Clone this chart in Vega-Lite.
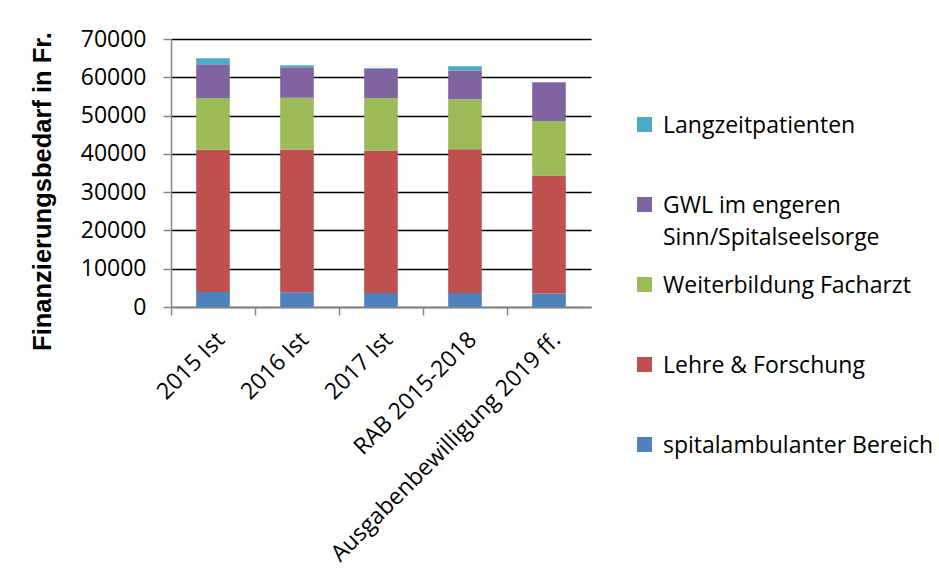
{
  "$schema": "https://vega.github.io/schema/vega-lite/v6.json",
  "width": 420,
  "height": 268,
  "autosize": {"type": "none"},
  "padding": {"left": 171, "top": 39, "right": 348, "bottom": 278},
  "background": "white",
  "data": {
    "values": [
      {"cat": "2015 Ist", "serie": "spitalambulanter Bereich", "k": 1, "wert": 3900},
      {"cat": "2015 Ist", "serie": "Lehre & Forschung", "k": 2, "wert": 37200},
      {"cat": "2015 Ist", "serie": "Weiterbildung Facharzt", "k": 3, "wert": 13500},
      {"cat": "2015 Ist", "serie": "GWL im engeren Sinn/Spitalseelsorge", "k": 4, "wert": 8800},
      {"cat": "2015 Ist", "serie": "Langzeitpatienten", "k": 5, "wert": 1550},
      {"cat": "2016 Ist", "serie": "spitalambulanter Bereich", "k": 1, "wert": 3850},
      {"cat": "2016 Ist", "serie": "Lehre & Forschung", "k": 2, "wert": 37300},
      {"cat": "2016 Ist", "serie": "Weiterbildung Facharzt", "k": 3, "wert": 13500},
      {"cat": "2016 Ist", "serie": "GWL im engeren Sinn/Spitalseelsorge", "k": 4, "wert": 8000},
      {"cat": "2016 Ist", "serie": "Langzeitpatienten", "k": 5, "wert": 500},
      {"cat": "2017 Ist", "serie": "spitalambulanter Bereich", "k": 1, "wert": 3650},
      {"cat": "2017 Ist", "serie": "Lehre & Forschung", "k": 2, "wert": 37200},
      {"cat": "2017 Ist", "serie": "Weiterbildung Facharzt", "k": 3, "wert": 13750},
      {"cat": "2017 Ist", "serie": "GWL im engeren Sinn/Spitalseelsorge", "k": 4, "wert": 7650},
      {"cat": "2017 Ist", "serie": "Langzeitpatienten", "k": 5, "wert": 200},
      {"cat": "RAB 2015-2018", "serie": "spitalambulanter Bereich", "k": 1, "wert": 3650},
      {"cat": "RAB 2015-2018", "serie": "Lehre & Forschung", "k": 2, "wert": 37550},
      {"cat": "RAB 2015-2018", "serie": "Weiterbildung Facharzt", "k": 3, "wert": 13050},
      {"cat": "RAB 2015-2018", "serie": "GWL im engeren Sinn/Spitalseelsorge", "k": 4, "wert": 7550},
      {"cat": "RAB 2015-2018", "serie": "Langzeitpatienten", "k": 5, "wert": 1050},
      {"cat": "Ausgabenbewilligung 2019 ff.", "serie": "spitalambulanter Bereich", "k": 1, "wert": 3550},
      {"cat": "Ausgabenbewilligung 2019 ff.", "serie": "Lehre & Forschung", "k": 2, "wert": 30800},
      {"cat": "Ausgabenbewilligung 2019 ff.", "serie": "Weiterbildung Facharzt", "k": 3, "wert": 14250},
      {"cat": "Ausgabenbewilligung 2019 ff.", "serie": "GWL im engeren Sinn/Spitalseelsorge", "k": 4, "wert": 10100},
      {"cat": "Ausgabenbewilligung 2019 ff.", "serie": "Langzeitpatienten", "k": 5, "wert": 0}
    ]
  },
  "mark": {"type": "bar", "width": {"band": 0.4}},
  "encoding": {
    "x": {
      "field": "cat",
      "type": "nominal",
      "sort": null,
      "scale": {"paddingInner": 0, "paddingOuter": 0},
      "axis": {
        "title": null,
        "bandPosition": 0,
        "labelAngle": -45,
        "labelFont": "Open Sans",
        "labelFontSize": 23,
        "labelColor": "black",
        "labelPadding": 13,
        "labelLimit": 400,
        "labelOverlap": false,
        "domainColor": "#868686",
        "domainWidth": 1.5,
        "tickColor": "#868686",
        "tickWidth": 1.5,
        "tickSize": 8,
        "grid": false
      }
    },
    "y": {
      "field": "wert",
      "type": "quantitative",
      "stack": "zero",
      "scale": {"domain": [0, 70000], "nice": false},
      "axis": {
        "title": "Finanzierungsbedarf in Fr.",
        "titleFont": "Liberation Sans",
        "titleFontSize": 25.5,
        "titleFontWeight": "bold",
        "titleColor": "black",
        "titleAngle": -90,
        "titleX": -129,
        "titleY": 152,
        "titleAlign": "center",
        "titleBaseline": "middle",
        "values": [0, 10000, 20000, 30000, 40000, 50000, 60000, 70000],
        "format": "d",
        "labelFont": "Open Sans",
        "labelFontSize": 23,
        "labelColor": "black",
        "labelPadding": 17,
        "domainColor": "#868686",
        "domainWidth": 1.5,
        "tickColor": "#868686",
        "tickWidth": 1.5,
        "tickSize": 8,
        "grid": true,
        "gridColor": "black",
        "gridWidth": 1.3
      }
    },
    "color": {
      "field": "serie",
      "type": "nominal",
      "scale": {
        "domain": ["Langzeitpatienten", "GWL im engeren Sinn/Spitalseelsorge", "Weiterbildung Facharzt", "Lehre & Forschung", "spitalambulanter Bereich"],
        "range": ["#4BACC6", "#8064A2", "#9BBB59", "#C0504D", "#4F81BD"]
      },
      "legend": {
        "title": null,
        "orient": "none",
        "legendX": 462,
        "legendY": 74,
        "padding": 0,
        "symbolType": "square",
        "symbolSize": 225,
        "symbolStrokeWidth": 0,
        "symbolOpacity": 1,
        "labelFont": "Open Sans",
        "labelFontSize": 23,
        "labelColor": "black",
        "labelLimit": 400,
        "labelOffset": 7,
        "labelBaseline": "alphabetic",
        "gridAlign": "all",
        "rowPadding": 23,
        "labelExpr": "datum.label == 'GWL im engeren Sinn/Spitalseelsorge' ? ['GWL im engeren', 'Sinn/Spitalseelsorge'] : datum.label",
        "encode": {
          "labels": {"update": {"dy": {"value": 8}, "lineHeight": {"value": 32}}}
        }
      }
    },
    "order": {"field": "k", "type": "quantitative", "sort": "ascending"}
  },
  "config": {
    "view": {"stroke": null},
    "axis": {"labelFont": "Open Sans"}
  }
}
